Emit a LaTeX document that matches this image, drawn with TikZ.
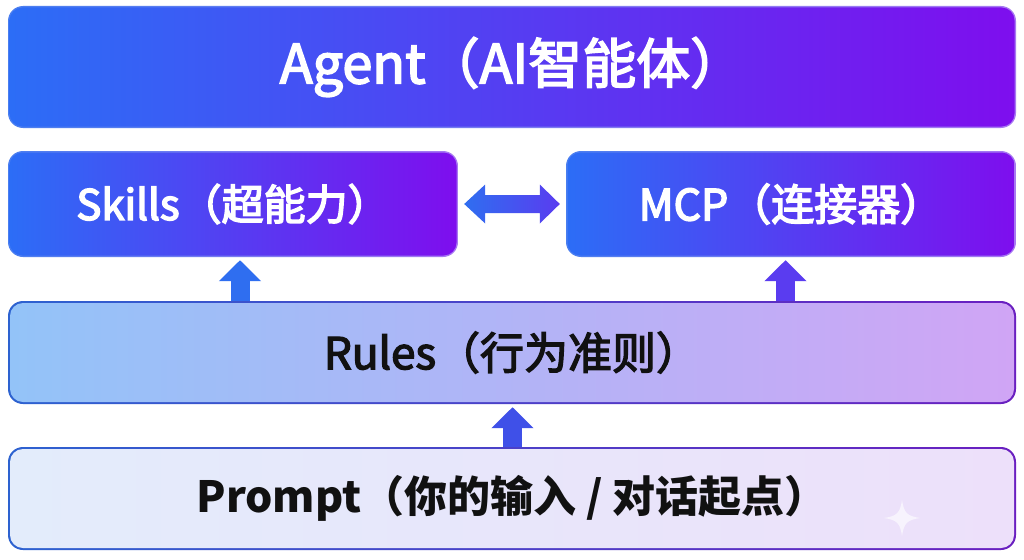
\documentclass[tikz,border=0pt]{standalone}
\usepackage{fontspec}
\setmainfont{Noto Sans CJK SC}
\newfontfamily\medf[FakeBold=3]{Noto Sans CJK SC}
\newfontfamily\semf[FakeBold=3.5]{Noto Sans CJK SC}
\usetikzlibrary{arrows.meta,calc}
\definecolor{agL}{HTML}{2C6DF6}
\definecolor{agR}{HTML}{7E0EEE}
\definecolor{agBL}{HTML}{4A7EF0}
\definecolor{agBR}{HTML}{A878F2}
\definecolor{ruL}{HTML}{93C3F8}
\definecolor{ruR}{HTML}{D0A5F5}
\definecolor{bdL}{HTML}{2D62D0}
\definecolor{bdR}{HTML}{6A1FC0}
\definecolor{prL}{HTML}{E3ECFB}
\definecolor{prR}{HTML}{EDE0FA}
\definecolor{arA}{HTML}{2F6EF0}
\definecolor{arB}{HTML}{5A3CF0}
\definecolor{arC}{HTML}{3F50E8}
\definecolor{txt}{HTML}{111111}
\tikzset{
  x=1pt,y=-1pt,
  boxo/.style={rounded corners=15pt, inner sep=0pt},
  boxi/.style={rounded corners=13pt, inner sep=0pt},
  uparrow/.style={line width=19pt, -{Triangle[width=41pt,length=21pt]}},
}
\begin{document}
\begin{tikzpicture}
\useasboundingbox (0,0) rectangle (1024,559);
\fill[white] (0,0) rectangle (1024,559);
% Agent
\node[boxo, left color=agBL, right color=agBR, minimum width=1008pt, minimum height=122pt] (agentB) at (512,67) {};
\node[boxi, left color=agL, right color=agR, minimum width=1005pt, minimum height=119pt, text=white, font=\medf\fontsize{54}{60}\selectfont] (agent) at (agentB) {Agent（AI智能体）};
% Skills
\node[boxo, left color=agBL, right color=agBR, minimum width=450pt, minimum height=106pt] (skillsB) at (233,204) {};
\node[boxi, left color=agL, right color=agR, minimum width=447pt, minimum height=103pt, text=white, font=\semf\fontsize{42}{48}\selectfont] (skills) at (skillsB) {Skills（超能力）};
% MCP
\node[boxo, left color=agBL, right color=agBR, minimum width=450pt, minimum height=106pt] (mcpB) at (791,204) {};
\node[boxi, left color=agL, right color=agR, minimum width=447pt, minimum height=103pt, text=white, font=\semf\fontsize{43}{48}\selectfont] (mcp) at (mcpB) {MCP（连接器）};
% Rules
\node[boxo, left color=bdL, right color=bdR, minimum width=1008pt, minimum height=103pt] (rulesB) at (512,352.5) {};
\node[boxi, left color=ruL, right color=ruR, minimum width=1004pt, minimum height=99pt, text=txt, font=\medf\fontsize{44}{48}\selectfont] (rules) at (rulesB) {Rules（行为准则）};
% Prompt
\node[boxo, left color=bdL, right color=bdR, minimum width=1008pt, minimum height=103pt] (promptB) at (512,498.5) {};
\node[boxi, left color=prL, right color=prR, minimum width=1004pt, minimum height=99pt, text=txt, font=\fontsize{43}{48}\selectfont\bfseries] (prompt) at (promptB) {Prompt（你的输入 / 对话起点）};
% double arrow
\path[left color=arA, right color=arB]
  ($(skillsB.east)+(6,0)$) -- ++(21,-19.5) -- ++(0,10.5) -- ($(mcpB.west)+(-26,-9)$) -- ++(0,-10.5) -- ($(mcpB.west)+(-6,0)$)
  -- ($(mcpB.west)+(-26,19.5)$) -- ++(0,-10.5) -- ($(skillsB.east)+(27,9)$) -- ++(0,10.5) -- cycle;
% up arrows
\coordinate (s1) at ([xshift=7pt,yshift=-3pt]skillsB.south);
\coordinate (m1) at ([xshift=-5.5pt,yshift=-3pt]mcpB.south);
\coordinate (r1) at ([xshift=0.5pt,yshift=-3pt]rulesB.south);
\draw[uparrow, arA] (s1 |- rulesB.north) -- (s1);
\draw[uparrow, arB] (m1 |- rulesB.north) -- (m1);
\draw[uparrow, arC] (r1 |- promptB.north) -- (r1);
% sparkle
\fill[white, opacity=0.6] (902,500) .. controls (904,513) and (907,516) .. (920,518)
  .. controls (907,520) and (904,523) .. (902,536)
  .. controls (900,523) and (897,520) .. (884,518)
  .. controls (897,516) and (900,513) .. (902,500) -- cycle;
\end{tikzpicture}
\end{document}
